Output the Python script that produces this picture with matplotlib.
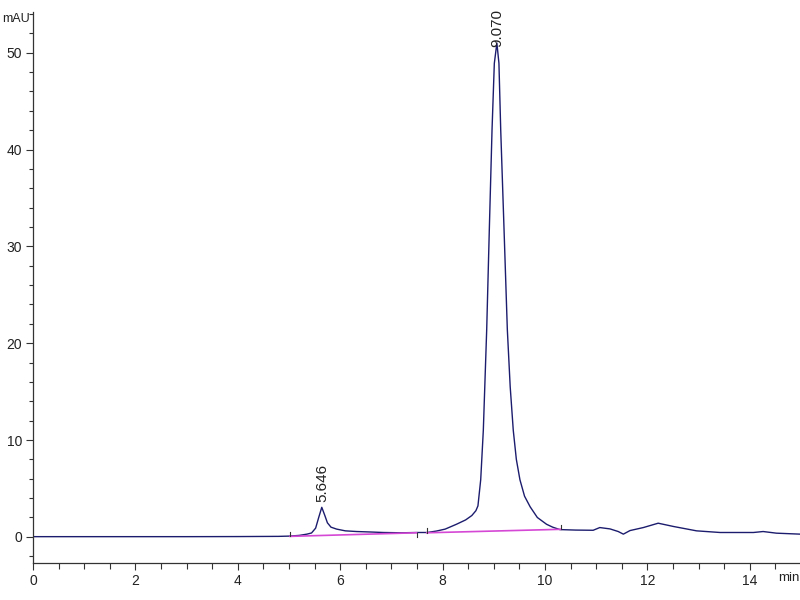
import matplotlib
matplotlib.use("Agg")
import matplotlib.pyplot as plt
from matplotlib.ticker import MultipleLocator

plt.rcParams['font.family'] = ['Liberation Sans', 'DejaVu Sans']

# chromatogram trace (min, mAU)
time_min = [0.0, 1.0, 2.0, 3.0, 4.0, 4.8, 5.02, 5.2, 5.35, 5.44, 5.52, 5.58, 5.64, 5.70,
            5.75, 5.82, 5.93, 6.1, 6.32, 6.6, 6.84, 7.2, 7.5, 7.7, 7.88, 8.05, 8.27, 8.45,
            8.57, 8.65, 8.69, 8.744, 8.795, 8.861, 8.912, 8.965, 9.01, 9.06, 9.10, 9.135,
            9.2, 9.264, 9.32, 9.38, 9.44, 9.51, 9.6, 9.71, 9.85, 10.03, 10.15, 10.29, 10.6,
            10.94, 11.07, 11.27, 11.43, 11.53, 11.66, 11.92, 12.21, 12.51, 12.96, 13.42,
            14.07, 14.26, 14.52, 14.98]
signal_mau = [0.02, 0.02, 0.02, 0.02, 0.03, 0.05, 0.08, 0.15, 0.28, 0.4, 0.9, 2.0, 3.05, 2.2,
              1.45, 1.0, 0.8, 0.62, 0.55, 0.5, 0.45, 0.42, 0.45, 0.45, 0.6, 0.8, 1.3, 1.75,
              2.2, 2.7, 3.2, 5.9, 11.0, 21.4, 31.7, 42.0, 48.9, 51.0, 48.9, 42.0,
              31.7, 21.4, 15.5, 11.0, 8.0, 5.9, 4.2, 3.1, 2.0, 1.3, 1.0, 0.75, 0.7,
              0.68, 0.96, 0.82, 0.55, 0.28, 0.65, 0.96, 1.41, 1.07, 0.62, 0.45,
              0.45, 0.55, 0.38, 0.28]

# integration baselines (start, end) for each peak
base_t = [(5.02, 7.49), (7.69, 10.31)]
base_y = [(0.05, 0.42), (0.42, 0.78)]
marker_t = [5.02, 7.49, 7.69, 10.31]
marker_y = [0.05, 0.42, 0.42, 0.78]
marker_dir = [1, -1, 1, 1]

peak_rt = [5.646, 9.070]
peak_h = [3.05, 51.0]
peak_offset = [4, -3]

trace_color = '#1c1c6e'
base_color = '#d548d5'

fig = plt.figure(figsize=(8, 6), dpi=100)
ax = fig.add_axes([33 / 800, 37 / 600, 767 / 800, 551 / 600])

ax.plot(time_min, signal_mau, color=trace_color, lw=1.0)
for (t0, t1), (y0, y1) in zip(base_t, base_y):
    ax.plot([t0, t1], [y0, y1], color=base_color, lw=1.2)
for t, y, d in zip(marker_t, marker_y, marker_dir):
    ax.plot([t, t], [y, y + d * 0.45], color='#333333', lw=0.8)

for rt, h, off in zip(peak_rt, peak_h, peak_offset):
    ax.annotate(f'{rt:.3f}', xy=(rt, h), xytext=(0, off), textcoords='offset points',
                rotation=90, ha='center', va='bottom', fontsize=11, color='#222222')

ax.set_xlim(0, 14.98)
ax.set_ylim(-2.7, 54.2)
ax.spines['top'].set_visible(False)
ax.spines['right'].set_visible(False)
for s in ['left', 'bottom']:
    ax.spines[s].set_color('#333333')
    ax.spines[s].set_linewidth(0.9)

ax.xaxis.set_major_locator(MultipleLocator(2))
ax.xaxis.set_minor_locator(MultipleLocator(0.5))
ax.yaxis.set_major_locator(MultipleLocator(10))
ax.yaxis.set_minor_locator(MultipleLocator(2))
ax.tick_params(which='major', length=5, width=0.8, color='#333333', labelsize=10,
               labelcolor='#222222', pad=3)
ax.tick_params(which='minor', length=3, width=0.8, color='#333333')
ax.tick_params(axis='x', which='minor', length=4)

fig.text(0.003, 0.968, 'mAU', fontsize=9, color='#222222', va='center', ha='left')
fig.text(0.999, 0.037, 'min', fontsize=9.5, color='#222222', va='center', ha='right')

fig.savefig('out.png', dpi=100)
